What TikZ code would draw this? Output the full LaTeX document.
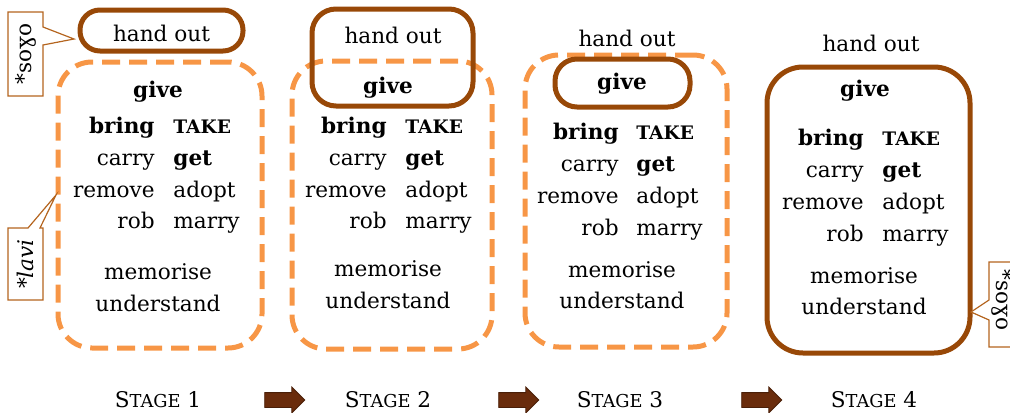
\documentclass[tikz,border=0pt]{standalone}
\usepackage{fontspec}
\setmainfont{DejaVu Serif}
\usetikzlibrary{shapes.arrows}
\definecolor{brn}{HTML}{984807}
\definecolor{org}{HTML}{F79646}
\definecolor{arr}{HTML}{6A2C0C}
\definecolor{callc}{HTML}{B4641E}
\newcommand\smcapb[1]{{\fontsize{9.3}{10}\selectfont\bfseries #1}}
\newcommand\stagelabel[1]{{\fontsize{10.8}{12}\selectfont S{\fontsize{8.9}{10}\selectfont TAGE} #1}}
\tikzset{
  txt/.style={inner sep=0pt, font=\fontsize{10.8}{13}\selectfont},
  lc/.style={txt, anchor=base east},
  rc/.style={txt, anchor=base west},
  ct/.style={txt, anchor=base},
  dashbox/.style={draw=org, line width=2.5pt, dash pattern=on 9pt off 4.5pt, rounded corners=17pt, inner sep=0pt},
  brownbox/.style={draw=brn, line width=2.5pt, inner sep=0pt},
  blockarrow/.style={single arrow, fill=arr, draw=arr!70!black, line width=0.4pt, inner xsep=0pt, inner ysep=3.5pt,
    minimum height=20pt, single arrow head extend=2.75pt},
  callbox/.style={draw=callc, line width=0.6pt, fill=white, line join=miter},
  stagetxt/.style={inner sep=0pt, anchor=base},
}
\begin{document}
\begin{tikzpicture}[x=0.5pt, y=-0.5pt]
\useasboundingbox (0,0) rectangle (1010,412);

% ---------- boxes ----------
\node[dashbox, minimum width=102pt, minimum height=143pt] (d1) at (160,205) {};
\node[dashbox, minimum width=100pt, minimum height=144pt] (d2) at (392,205) {};
\node[dashbox, minimum width=101pt, minimum height=146pt] (d3) at (626,201) {};

\node[brownbox, rounded corners=10pt, minimum width=81.5pt, minimum height=20.5pt] (h1) at (161.5,30.5) {};
\node[brownbox, rounded corners=12pt, minimum width=80.5pt, minimum height=48.5pt] (h2) at (392.5,57.5) {};
\node[brownbox, rounded corners=11pt, minimum width=67.5pt, minimum height=24pt] (h3) at (622.5,83) {};
\node[brownbox, rounded corners=18pt, minimum width=101.5pt, minimum height=143pt] (h4) at (868.5,210) {};

% ---------- stage 1 ----------
\node[ct] (ho1) at (161.5,41) {hand out};
\node[ct] (gv1) at (158,97) {\bfseries give};
\node[lc] (br1) at (155,133) {\bfseries bring}; \node[rc] (tk1) at (173,133) {\smcapb{TAKE}};
\node[lc] (ca1) at (155,165) {carry};        \node[rc] (gt1) at (173,165) {\bfseries get};
\node[lc] (rm1) at (155,197) {remove};       \node[rc] (ad1) at (173,197) {adopt};
\node[lc] (rb1) at (155,228) {rob};          \node[rc] (ma1) at (173,228) {marry};
\node[ct] (me1) at (158,279) {memorise};
\node[ct] (un1) at (158,311) {understand};

% ---------- stage 2 ----------
\node[ct] (ho2) at (393,43) {hand out};
\node[ct] (gv2) at (388,93) {\bfseries give};
\node[lc] (br2) at (387,133) {\bfseries bring}; \node[rc] (tk2) at (405,133) {\smcapb{TAKE}};
\node[lc] (ca2) at (387,165) {carry};        \node[rc] (gt2) at (405,165) {\bfseries get};
\node[lc] (rm2) at (387,197) {remove};       \node[rc] (ad2) at (405,197) {adopt};
\node[lc] (rb2) at (387,228) {rob};          \node[rc] (ma2) at (405,228) {marry};
\node[ct] (me2) at (388,276) {memorise};
\node[ct] (un2) at (388,308) {understand};

% ---------- stage 3 ----------
\node[ct] (ho3) at (627,46) {hand out};
\node[ct] (gv3) at (622,89) {\bfseries give};
\node[lc] (br3) at (619,139) {\bfseries bring}; \node[rc] (tk3) at (636,139) {\smcapb{TAKE}};
\node[lc] (ca3) at (619,171) {carry};        \node[rc] (gt3) at (636,171) {\bfseries get};
\node[lc] (rm3) at (619,203) {remove};       \node[rc] (ad3) at (636,203) {adopt};
\node[lc] (rb3) at (619,235) {rob};          \node[rc] (ma3) at (636,235) {marry};
\node[ct] (me3) at (622,277) {memorise};
\node[ct] (un3) at (622,308) {understand};

% ---------- stage 4 ----------
\node[ct] (ho4) at (871,51) {hand out};
\node[ct] (gv4) at (865,96) {\bfseries give};
\node[lc] (br4) at (864,145) {\bfseries bring}; \node[rc] (tk4) at (882,145) {\smcapb{TAKE}};
\node[lc] (ca4) at (864,177) {carry};        \node[rc] (gt4) at (882,177) {\bfseries get};
\node[lc] (rm4) at (864,209) {remove};       \node[rc] (ad4) at (882,209) {adopt};
\node[lc] (rb4) at (864,241) {rob};          \node[rc] (ma4) at (882,241) {marry};
\node[ct] (me4) at (864,283) {memorise};
\node[ct] (un4) at (864,314) {understand};

% ---------- callouts ----------
\draw[callbox] (8,12) -- (43,12) -- (43,27) -- (74,39) -- (43,45) -- (43,96) -- (8,96) -- cycle;
\node[txt, rotate=90] (c1) at (25.5,54) {*soɣo};
\draw[callbox] (8,228) -- (28,228) -- (56,195) -- (40,228) -- (43,228) -- (43,300) -- (8,300) -- cycle;
\node[txt, rotate=90] (c2) at (25.5,264) {\itshape *lavi};
\draw[callbox] (1020,262) -- (989,262) -- (989,300) -- (971,312) -- (989,320) -- (989,347) -- (1020,347);
\node[txt, rotate=-90] (c3) at (1002,300) {*soɣo};

% ---------- stage labels ----------
\node[stagetxt] (s1) at (158,407) {\stagelabel{1}};
\node[stagetxt] (s2) at (388,407) {\stagelabel{2}};
\node[stagetxt] (s3) at (620,407) {\stagelabel{3}};
\node[stagetxt] (s4) at (874,407) {\stagelabel{4}};
\node[blockarrow] (a1) at (281,400) {};
\node[blockarrow] (a2) at (515,400) {};
\node[blockarrow] (a3) at (758,400) {};
\end{tikzpicture}
\end{document}
